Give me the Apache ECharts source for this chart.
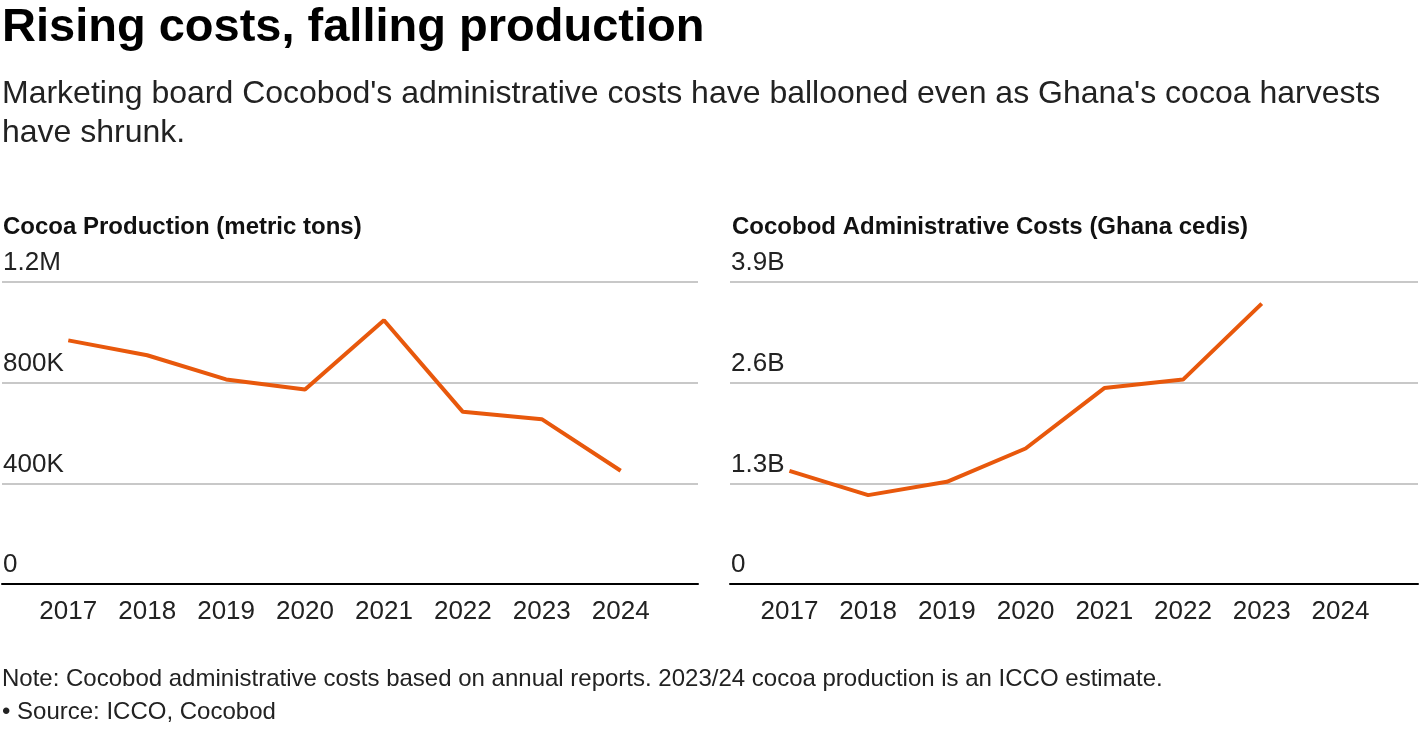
<!DOCTYPE html>
<html><head><meta charset="utf-8">
<script src="https://cdn.jsdelivr.net/npm/echarts@6/dist/echarts.min.js"></script>
<style>html,body{margin:0;padding:0;background:#fff}#c{width:1420px;height:730px}</style>
</head><body><div id="c"></div>
<script>
const years = [2017, 2018, 2019, 2020, 2021, 2022, 2023, 2024];
const production = [968000, 909000, 813000, 773000, 1048000, 684000, 655000, 450000];
const adminCosts = [1.462e9, 1.148e9, 1.32e9, 1.75e9, 2.53e9, 2.64e9, 3.62e9, null];
const productionTicks = [0, 400000, 800000, 1200000];
const productionTickLabels = ['0', '400K', '800K', '1.2M'];
const costTicks = [0, 1.3e9, 2.6e9, 3.9e9];
const costTickLabels = ['0', '1.3B', '2.6B', '3.9B'];

const FONT = "'Liberation Sans', Arial, Helvetica, sans-serif";
const LINE = '#e8580c';

function tickFmt(ticks, labels) {
  return v => {
    for (let i = 0; i < ticks.length; i++) if (Math.abs(v - ticks[i]) < 1e-6 * (ticks[ticks.length-1])) return labels[i];
    return '';
  };
}

function xAxis(gridIndex, min, max) {
  return {
    type: 'value', gridIndex, min, max,
    axisLine: { show: true, lineStyle: { color: '#000', width: 2 } },
    axisTick: { show: false },
    splitLine: { show: false },
    z: 5,
    axisLabel: { customValues: years, formatter: v => String(v), fontSize: 26, color: '#222', fontFamily: FONT, margin: 15 }
  };
}
function yAxis(gridIndex, ticks, labels) {
  return {
    type: 'value', gridIndex, min: 0, max: ticks[ticks.length-1], interval: ticks[1],
    axisLine: { show: false }, axisTick: { show: false },
    splitLine: { show: true, lineStyle: { color: '#c8c8c8', width: 2 } },
    axisLabel: { inside: true, margin: 1, formatter: tickFmt(ticks, labels), fontSize: 26, color: '#222', fontFamily: FONT, verticalAlign: 'bottom', align: 'left', padding: [0,0,6,0], lineHeight: 26 }
  };
}

const chart = echarts.init(document.getElementById('c'), null, { renderer: 'canvas' });
chart.setOption({
  backgroundColor: '#fff',
  animation: false,
  title: [
    { text: 'Rising costs, falling production', left: 2, top: 5, padding: 0, textStyle: { fontSize: 47, fontWeight: 'bold', color: '#000', fontFamily: FONT } },
    { text: "Marketing board Cocobod's administrative costs have ballooned even as Ghana's cocoa harvests\nhave shrunk.", left: 2, top: 75, padding: 0, textStyle: { fontSize: 32, fontWeight: 'normal', color: '#222', fontFamily: FONT, lineHeight: 39 } },
    { text: 'Cocoa Production (metric tons)', left: 3, top: 215, padding: 0, textStyle: { fontSize: 24, fontWeight: 'bold', color: '#111', fontFamily: FONT } },
    { text: 'Cocobod Administrative Costs (Ghana cedis)', left: 732, top: 215, padding: 0, textStyle: { fontSize: 24, fontWeight: 'bold', color: '#111', fontFamily: FONT } },
    { text: 'Note: Cocobod administrative costs based on annual reports. 2023/24 cocoa production is an ICCO estimate.', left: 2, top: 667, padding: 0, textStyle: { fontSize: 24, fontWeight: 'normal', color: '#222', fontFamily: FONT } },
    { text: '• Source: ICCO, Cocobod', left: 2, top: 700, padding: 0, textStyle: { fontSize: 24, fontWeight: 'normal', color: '#222', fontFamily: FONT } }
  ],
  grid: [
    { left: 2, width: 696, top: 282, bottom: 146, containLabel: false },
    { left: 730, width: 688, top: 282, bottom: 146, containLabel: false }
  ],
  xAxis: [xAxis(0, 2016.16, 2024.98), xAxis(1, 2016.245, 2024.985)],
  yAxis: [yAxis(0, productionTicks, productionTickLabels), yAxis(1, costTicks, costTickLabels)],
  series: [
    { type: 'line', xAxisIndex: 0, yAxisIndex: 0, data: years.map((y, i) => [y, production[i]]), symbol: 'none', lineStyle: { color: LINE, width: 4 }, z: 3 },
    { type: 'line', xAxisIndex: 1, yAxisIndex: 1, data: years.map((y, i) => [y, adminCosts[i]]), symbol: 'none', connectNulls: false, lineStyle: { color: LINE, width: 4 }, z: 3 }
  ]
});
</script></body></html>
